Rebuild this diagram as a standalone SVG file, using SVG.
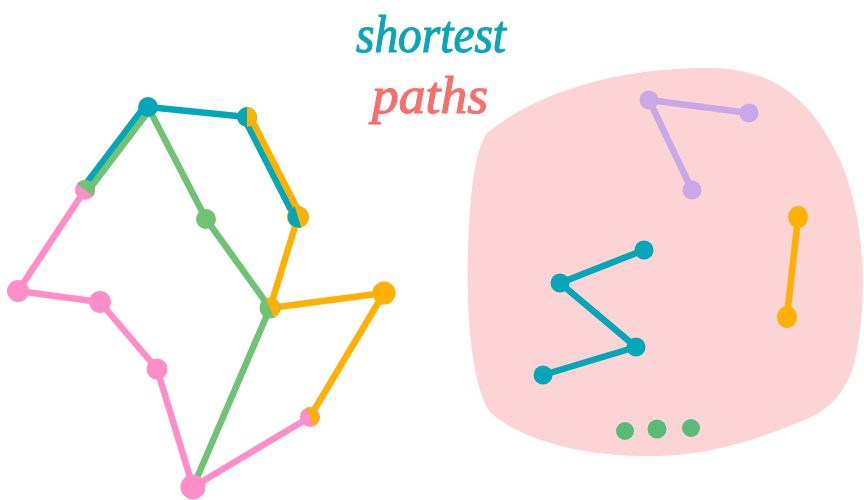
<svg xmlns="http://www.w3.org/2000/svg" width="864" height="500" viewBox="0 0 864 500">
<style>
.e{fill:none;stroke-width:6.5;stroke-linecap:round;stroke-linejoin:round}
.te{stroke:#03a7b7}.gr{stroke:#70c275}.or{stroke:#ffb000}.pk{stroke:#ff8dc7}.lv{stroke:#c8a9e6}
.t{fill:#03a7b7}.g{fill:#70c275}.o{fill:#ffb000}.p{fill:#ff8dc7}.l{fill:#c8a9e6}.dg{fill:#58bc78}
.title{font-family:"Liberation Serif",serif;font-style:italic;font-size:52px;stroke-width:1.2;stroke-linejoin:round}
</style>
<rect width="864" height="500" fill="#ffffff"/>
<g id="title">
<text class="title" x="356" y="52" fill="#0aa6b4" stroke="#0aa6b4" textLength="150" lengthAdjust="spacingAndGlyphs">shortest</text>
<text class="title" x="372" y="113" fill="#f66f6d" stroke="#f66f6d" textLength="116" lengthAdjust="spacingAndGlyphs">paths</text>
</g>
<g id="blob">
<path d="M487,133 C530,98 600,70 700,68 C770,66 810,95 840,160 C866,220 868,300 855,360 C845,398 825,412 800,422 C750,442 700,458 640,456 C580,455 520,440 490,412 C470,385 466,300 468,250 C470,190 475,150 487,133 Z" fill="#fdd4d5"/>
</g>
<g id="connectors">
<line class="e te" x1="148" y1="107" x2="247" y2="117"/>
<line class="e te" x1="145.6" y1="105.2" x2="82.6" y2="188.2"/>
<line class="e gr" x1="150.4" y1="108.8" x2="87.4" y2="191.8"/>
<line class="e gr" x1="148" y1="107" x2="206" y2="219"/>
<line class="e gr" x1="206" y1="219" x2="270" y2="308"/>
<line class="e te" x1="244.3" y1="118.4" x2="295.3" y2="218.4"/>
<line class="e or" x1="249.7" y1="115.6" x2="300.7" y2="215.6"/>
<line class="e or" x1="298" y1="217" x2="270" y2="308"/>
<line class="e or" x1="270" y1="308" x2="384" y2="293"/>
<line class="e or" x1="384" y1="293" x2="310" y2="417"/>
<line class="e gr" x1="270" y1="308" x2="193" y2="487"/>
<line class="e pk" x1="85" y1="190" x2="18" y2="291"/>
<line class="e pk" x1="18" y1="291" x2="100" y2="302"/>
<line class="e pk" x1="100" y1="302" x2="157" y2="369"/>
<line class="e pk" x1="157" y1="369" x2="193" y2="487"/>
<line class="e pk" x1="193" y1="487" x2="310" y2="417"/>
<line class="e lv" x1="649" y1="100" x2="749" y2="113"/>
<line class="e lv" x1="649" y1="100" x2="692" y2="190"/>
<line class="e or" x1="798" y1="217" x2="787" y2="317"/>
<line class="e te" x1="644" y1="250" x2="560" y2="283"/>
<line class="e te" x1="560" y1="283" x2="636" y2="347"/>
<line class="e te" x1="636" y1="347" x2="543" y2="375"/>
</g>
<g id="nA"><circle cx="148" cy="107" r="10" class="t"/></g>
<g id="nB"><circle cx="247" cy="117" r="10" class="t"/><path d="M247,127 A10,10 0 0 0 247,107 Z" class="o"/></g>
<g id="nC"><circle cx="85" cy="190" r="10" class="p"/><path d="M93,196 A10,10 0 0 0 77,184 Z" class="g"/></g>
<g id="nD"><circle cx="206" cy="219" r="10" class="g"/></g>
<g id="nE"><circle cx="298" cy="217" r="11" class="o"/><path d="M294.8,206.5 A11,11 0 0 0 301.2,227.5 Z" class="t"/></g>
<g id="nF"><circle cx="18" cy="291" r="11" class="p"/></g>
<g id="nG"><circle cx="100" cy="302" r="11" class="p"/></g>
<g id="nH"><circle cx="270" cy="308" r="10.5" class="g"/><path d="M274,317.7 A10.5,10.5 0 0 0 266,298.3 Z" class="o"/></g>
<g id="nI"><circle cx="384" cy="293" r="11.5" class="o"/></g>
<g id="nJ"><circle cx="157" cy="369" r="10.5" class="p"/></g>
<g id="nK"><circle cx="310" cy="417" r="10" class="p"/><path d="M313.8,426.2 A10,10 0 0 0 306.2,407.8 Z" class="o"/></g>
<g id="nL"><circle cx="193" cy="487" r="12.5" class="p"/></g>
<g id="nP1"><circle cx="649" cy="100" r="9.5" class="l"/></g>
<g id="nP2"><circle cx="749" cy="113" r="9.5" class="l"/></g>
<g id="nP3"><circle cx="692" cy="190" r="9.5" class="l"/></g>
<g id="nO1"><ellipse cx="798" cy="217" rx="10" ry="11" class="o"/></g>
<g id="nO2"><ellipse cx="787" cy="317" rx="10" ry="11" class="o"/></g>
<g id="nT1"><circle cx="644" cy="250" r="9.5" class="t"/></g>
<g id="nT2"><circle cx="560" cy="283" r="9.5" class="t"/></g>
<g id="nT3"><circle cx="636" cy="347" r="9.5" class="t"/></g>
<g id="nT4"><circle cx="543" cy="375" r="9.5" class="t"/></g>
<g id="dots">
<circle cx="625" cy="431" r="9" class="dg"/>
<circle cx="657" cy="429" r="9.5" class="dg"/>
<circle cx="691" cy="428" r="9" class="dg"/>
</g>
</svg>
